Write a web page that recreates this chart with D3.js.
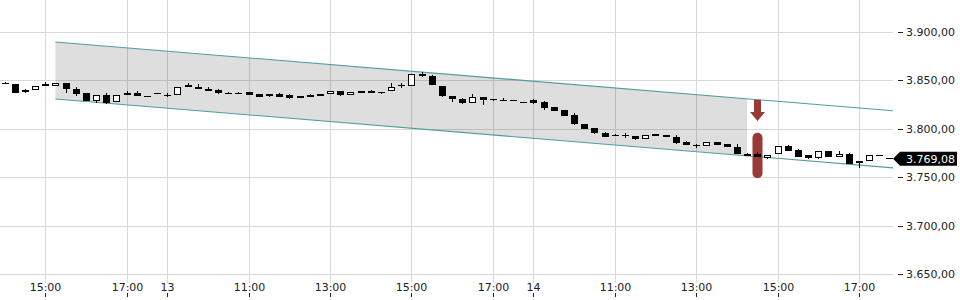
<!DOCTYPE html>
<html>
<head>
<meta charset="utf-8">
<script src="https://cdn.jsdelivr.net/npm/d3@7"></script>
<style>
  html, body { margin: 0; padding: 0; background: #fff; }
  svg { display: block; font-family: "DejaVu Sans", sans-serif; }
</style>
</head>
<body>
<svg id="chart" width="960" height="300"></svg>
<script>
// ---- data (15-minute candles, index 0..87) ----
const opens  = [3847.5,3846.3,3837.7,3840.1,3846.5,3844.5,3847.0,3840.8,3836.6,3828.7,3835.2,3828.0,3834.6,3837.3,3834.0,3837.4,
  3835.0,3835.0,3845.2,3843.5,3841.4,3840.1,3837.5,3837.4,3838.0,3836.0,3835.6,3835.5,3835.0,3831.5,3834.5,3833.5,3835.6,3839.0,3834.6,3839.0,3839.3,3838.0,3838.7,3844.8,3844.2,3856.3,3854.2,3844.5,3833.6,3830.8,3826.7,3832.6,3830.8,3830.1,3829.9,3827.5,
  3830.1,3827.4,3822.5,3819.1,3814.3,3805.0,3800.5,3796.0,3794.0,3794.0,3792.6,3789.5,3794.3,3793.3,3791.9,3786.0,3783.6,3782.5,3786.0,3784.3,3781.5,3774.4,3773.7,3769.5,3773.7,3782.2,3778.1,3772.9,3769.5,3777.0,3770.8,3774.3,3766.7,3766.7,3773.0,3770.2];
const highs  = [3848.3,3846.6,3841.4,3844.4,3848.3,3847.3,3847.3,3842.9,3837.0,3834.8,3836.6,3835.0,3838.7,3839.0,3834.1,3837.5,
  3837.3,3843.0,3847.0,3846.3,3843.0,3841.0,3837.6,3837.6,3838.2,3836.3,3835.8,3836.5,3836.0,3834.0,3835.5,3836.1,3838.8,3839.2,3838.1,3839.2,3840.0,3838.2,3847.6,3847.0,3856.6,3858.4,3856.0,3844.7,3833.8,3832.1,3835.8,3832.8,3831.0,3831.5,3830.0,3827.6,
  3831.3,3828.7,3822.7,3819.3,3816.0,3805.2,3800.7,3796.3,3794.2,3795.5,3792.8,3793.7,3795.0,3793.5,3793.3,3787.7,3783.8,3786.1,3786.2,3784.5,3784.0,3775.5,3776.0,3773.1,3782.3,3783.3,3779.5,3773.1,3777.1,3777.2,3777.0,3775.5,3766.9,3772.7,3773.1,3770.3];
const lows   = [3845.8,3837.0,3837.5,3840.0,3844.0,3844.3,3837.3,3833.9,3828.5,3826.3,3826.0,3827.8,3834.5,3833.7,3833.8,3837.2,
  3833.2,3834.8,3842.7,3840.6,3839.0,3836.0,3836.9,3836.0,3835.0,3832.5,3833.3,3832.7,3831.3,3831.4,3832.5,3833.4,3835.5,3834.4,3834.5,3837.1,3836.5,3835.5,3838.6,3842.2,3844.0,3854.0,3845.0,3832.5,3827.4,3826.1,3826.5,3824.6,3829.2,3828.5,3829.6,3827.2,
  3826.1,3819.7,3818.5,3813.3,3804.4,3799.9,3795.1,3791.6,3792.4,3791.0,3788.0,3789.3,3792.4,3791.8,3784.8,3782.8,3779.7,3782.3,3782.8,3781.3,3773.5,3771.8,3770.4,3769.3,3773.5,3777.2,3771.0,3769.3,3769.3,3771.0,3770.6,3763.4,3759.8,3766.5,3772.8,3769.0];
const closes = [3846.2,3837.3,3840.1,3844.2,3844.2,3847.0,3841.1,3835.9,3828.7,3834.6,3826.3,3834.9,3837.3,3833.9,3833.9,3837.3,
  3834.0,3842.9,3842.9,3840.8,3839.4,3836.7,3837.0,3837.2,3835.2,3833.2,3833.5,3833.2,3831.5,3833.9,3833.2,3836.0,3838.7,3834.6,3838.0,3837.3,3836.7,3836.7,3843.5,3845.2,3856.4,3854.2,3845.2,3833.9,3830.5,3826.3,3832.6,3830.2,3829.4,3830.0,3829.7,3827.3,
  3826.3,3821.8,3818.7,3813.5,3804.6,3800.1,3795.3,3791.9,3792.6,3792.6,3789.2,3793.6,3792.6,3792.0,3785.0,3783.0,3782.3,3786.0,3783.0,3781.5,3773.7,3772.0,3770.6,3773.0,3782.2,3777.4,3771.2,3769.5,3777.0,3771.2,3774.3,3763.6,3764.7,3772.6,3772.9,3769.08];

const xTickIdx    = [4, 12, 16, 24, 32, 40, 48, 52, 60, 68, 76, 84];
const xTickLabels = ["15:00","17:00","13","11:00","13:00","15:00","17:00","14","11:00","13:00","15:00","17:00"];
const yTicks      = [3650, 3700, 3750, 3800, 3850, 3900];

// channel (index, upper value, lower value)
const channelStart = [5, 3889.7, 3830.8];
const channelShadeEnd = 73;
const channelSlope = -0.8637;        // points per candle
// signal marker
const signalIdx = 74;
const arrowValues = [3830.1, 3808.0]; // top, tip
const barValues = [3796.0, 3749.0];   // top, bottom
const lastPrice = 3769.08;

// ---- scales ----
const W = 960, H = 300;
const plotRight = 895;
const x = d3.scaleLinear().domain([-0.45, 87.55]).range([0, plotRight]);
const y = d3.scaleLinear().domain([3650, 3900]).range([274, 32]);
const de = d3.formatLocale({decimal: ",", thousands: ".", grouping: [3], currency: ["", "€"]});
const fmt = de.format(",.2f");

const svg = d3.select("#chart");

// grid
const grid = svg.append("g");
grid.selectAll("line.h").data(yTicks).join("line")
  .attr("x1", 0).attr("x2", 893)
  .attr("y1", d => Math.round(y(d)) + 0.5).attr("y2", d => Math.round(y(d)) + 0.5)
  .attr("stroke", "#d9d9d9").attr("stroke-width", 1);
grid.selectAll("line.v").data(xTickIdx).join("line")
  .attr("x1", d => Math.round(x(d)) + 0.5).attr("x2", d => Math.round(x(d)) + 0.5)
  .attr("y1", 0).attr("y2", 283)
  .attr("stroke", "#d9d9d9").attr("stroke-width", 1);

// channel
const upper = i => channelStart[1] + channelSlope * (i - channelStart[0]);
const lower = i => channelStart[2] + channelSlope * (i - channelStart[0]);
const iEnd = x.invert(893);
const shadeIdx = [channelStart[0], channelShadeEnd];
svg.append("path")
  .attr("d", d3.area().x(d => x(d)).y0(d => y(lower(d))).y1(d => y(upper(d)))(shadeIdx))
  .attr("fill", "#000").attr("fill-opacity", 0.13);
const lineGen = d3.line().x(d => x(d[0])).y(d => y(d[1]));
svg.append("path").attr("d", lineGen([[channelStart[0], upper(channelStart[0])], [iEnd, upper(iEnd)]]))
  .attr("fill", "none").attr("stroke", "#4f9c9f").attr("stroke-width", 1.1);
svg.append("path").attr("d", lineGen([[channelStart[0], lower(channelStart[0])], [iEnd, lower(iEnd)]]))
  .attr("fill", "none").attr("stroke", "#4f9c9f").attr("stroke-width", 1.1);

// signal marker
const red = "#993a36";
const scx = Math.round(x(signalIdx)) + 0.5;
const aTop = y(arrowValues[0]), aTip = y(arrowValues[1]);
const headH = 9, shaftW = 3.5, headW = 7.5;
svg.append("path")
  .attr("d", `M${scx - shaftW},${aTop} L${scx + shaftW},${aTop} L${scx + shaftW},${aTip - headH} L${scx + headW},${aTip - headH} L${scx},${aTip} L${scx - headW},${aTip - headH} L${scx - shaftW},${aTip - headH} Z`)
  .attr("fill", red);
svg.append("rect")
  .attr("x", scx - 5).attr("width", 10)
  .attr("y", y(barValues[0])).attr("height", y(barValues[1]) - y(barValues[0]))
  .attr("rx", 5).attr("ry", 5).attr("fill", red);

// candles
const candles = opens.map((o, i) => ({i, o, h: highs[i], l: lows[i], c: closes[i]}));
const cg = svg.append("g");
candles.forEach(d => {
  const cx = Math.round(x(d.i));
  const yh = Math.round(y(d.h)), yl = Math.round(y(d.l));
  const yt = Math.round(y(Math.max(d.o, d.c))), yb = Math.round(y(Math.min(d.o, d.c)));
  cg.append("line").attr("x1", cx + 0.5).attr("x2", cx + 0.5).attr("y1", yh).attr("y2", yl)
    .attr("stroke", "#000").attr("stroke-width", 1);
  const up = d.c > d.o;
  const bh = Math.max(yb - yt, 1);
  if (up && bh >= 3) {
    cg.append("rect").attr("x", cx - 2.5).attr("y", yt + 0.5).attr("width", 6).attr("height", bh - 1)
      .attr("fill", "#fff").attr("stroke", "#000").attr("stroke-width", 1);
  } else {
    cg.append("rect").attr("x", cx - 3).attr("y", yt).attr("width", 7).attr("height", bh)
      .attr("fill", "#000");
  }
});

// y axis labels
const ya = svg.append("g");
ya.selectAll("line").data(yTicks).join("line")
  .attr("x1", 898).attr("x2", 903)
  .attr("y1", d => Math.round(y(d)) + 0.5).attr("y2", d => Math.round(y(d)) + 0.5)
  .attr("stroke", "#222");
ya.selectAll("text").data(yTicks).join("text")
  .attr("x", 906).attr("y", d => y(d) + 4)
  .attr("font-size", 11).attr("fill", "#222")
  .text(d => fmt(d));

// x axis labels
const xa = svg.append("g");
xa.selectAll("text").data(xTickIdx).join("text")
  .attr("x", d => Math.round(x(d)) + 0.5).attr("y", 291)
  .attr("text-anchor", "middle").attr("font-size", 11).attr("fill", "#222")
  .text((d, k) => xTickLabels[k]);
xa.selectAll("line").data(xTickIdx).join("line")
  .attr("x1", d => Math.round(x(d)) + 0.5).attr("x2", d => Math.round(x(d)) + 0.5)
  .attr("y1", 293).attr("y2", 297).attr("stroke", "#222");

// last price tag
const yc = y(lastPrice);
svg.append("path")
  .attr("d", `M893,${yc} L900,${yc - 7} L957,${yc - 7} L957,${yc + 7} L900,${yc + 7} Z`)
  .attr("fill", "#000");
svg.append("text").attr("x", 906).attr("y", yc + 4)
  .attr("font-size", 11).attr("fill", "#fff").text(fmt(lastPrice));
</script>
</body>
</html>
